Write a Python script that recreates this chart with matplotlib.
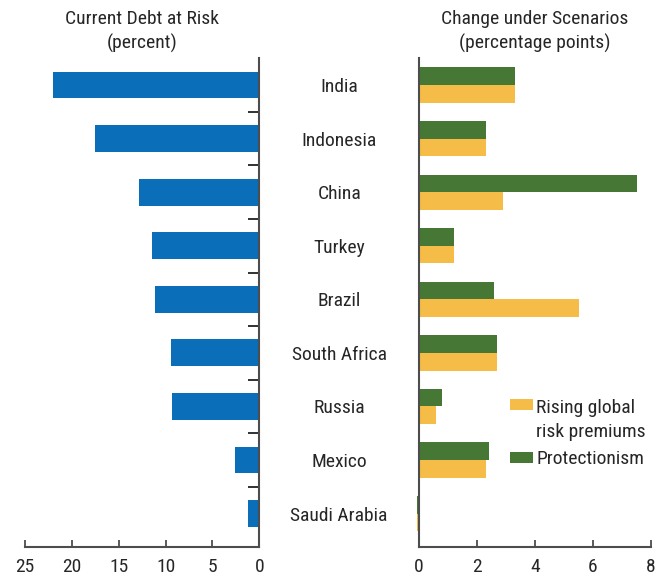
import matplotlib
matplotlib.use("Agg")
import matplotlib.pyplot as plt
from matplotlib import font_manager as fm
from matplotlib.patches import Patch, Rectangle
from matplotlib.legend_handler import HandlerPatch
import numpy as np

countries = ["India", "Indonesia", "China", "Turkey", "Brazil",
             "South Africa", "Russia", "Mexico", "Saudi Arabia"]
debt_at_risk = [22.0, 17.5, 12.8, 11.5, 11.1, 9.4, 9.3, 2.6, 1.2]
rising_premiums = [3.3, 2.3, 2.9, 1.2, 5.5, 2.7, 0.6, 2.3, -0.08]
protectionism = [3.3, 2.3, 7.5, 1.2, 2.6, 2.7, 0.8, 2.4, -0.08]
left_ticks = [25, 20, 15, 10, 5, 0]
right_ticks = [0, 2, 4, 6, 8]

available = set(f.name for f in fm.fontManager.ttflist)
preferred = ["Roboto Condensed", "Archivo Narrow", "Liberation Sans Narrow",
             "Barlow Semi Condensed", "Liberation Sans", "DejaVu Sans"]
FONT = [f for f in preferred if f in available] + ["DejaVu Sans"]
plt.rcParams["font.family"] = FONT

TXT = "#262626"
AX = "#4d4d4d"
BLUE = "#0A6EB8"
GREEN = "#477735"
YELLOW = "#F5BC47"
FS = 14

W, H = 657, 580
fig = plt.figure(figsize=(W / 100, H / 100), dpi=100)

top_px, bot_px = 58.3, 547.3
ax1 = fig.add_axes([25 / W, 1 - bot_px / H, 234.3 / W, (bot_px - top_px) / H])
ax2 = fig.add_axes([419 / W, 1 - bot_px / H, 232 / W, (bot_px - top_px) / H])

y = np.arange(len(countries))

# Left panel
ax1.barh(y, debt_at_risk, height=0.5, color=BLUE)
ax1.set_xlim(25, 0)
ax1.set_ylim(8.63, -0.5)
ax1.set_xticks(left_ticks)
ax1.set_xticklabels([str(t) for t in left_ticks])
ax1.yaxis.tick_right()
ax1.set_yticks(y[:-1] + 0.5)
ax1.set_yticklabels([])
ax1.tick_params(axis="y", direction="in", length=8, width=1.3, color="#222222")
ax1.tick_params(axis="x", direction="in", length=5, width=1.3, color=AX,
                labelsize=FS, labelcolor=TXT, pad=7.5)
for s in ["top", "left"]:
    ax1.spines[s].set_visible(False)
for s in ["right", "bottom"]:
    ax1.spines[s].set_color(AX)
    ax1.spines[s].set_linewidth(1.5)

# Right panel
h = 0.33
ax2.barh(y + h / 2, rising_premiums, height=h, color=YELLOW, clip_on=False)
ax2.barh(y - h / 2, protectionism, height=h, color=GREEN, clip_on=False)
ax2.set_xlim(0, 8)
ax2.set_ylim(8.63, -0.5)
ax2.set_xticks(right_ticks)
ax2.set_xticklabels([str(t) for t in right_ticks])
ax2.set_yticks(y)
ax2.set_yticklabels(countries, ha="center")
ax2.tick_params(axis="y", length=0, pad=57.5, labelsize=FS, labelcolor=TXT)
ax2.tick_params(axis="x", direction="in", length=5, width=1.3, color=AX,
                labelsize=FS, labelcolor=TXT, pad=7.5)
for s in ["top", "right"]:
    ax2.spines[s].set_visible(False)
for s in ["left", "bottom"]:
    ax2.spines[s].set_color(AX)
    ax2.spines[s].set_linewidth(1.5)


def first_line_patch(legend, orig_handle, xdescent, ydescent, width, height, fontsize):
    return Rectangle((-xdescent, -ydescent + 0.8 * fontsize), width, height)


handles = [Patch(facecolor=YELLOW, edgecolor="none"),
           Patch(facecolor=GREEN, edgecolor="none")]
leg = ax2.legend(handles, ["Rising global\nrisk premiums", "Protectionism"],
                 loc="upper left", bbox_to_anchor=(0.392, 0.303),
                 borderaxespad=0, borderpad=0, frameon=False, fontsize=FS,
                 handlelength=1.2, handleheight=0.53, handletextpad=0.15,
                 labelspacing=0.5,
                 handler_map={handles[0]: HandlerPatch(patch_func=first_line_patch)})
for t in leg.get_texts():
    t.set_color(TXT)
    t.set_linespacing(1.4)

# Titles
fig.text(142.2 / W, 1 - 24 / H, "Current Debt at Risk", ha="center",
         va="baseline", fontsize=FS, color=TXT)
fig.text(142.2 / W, 1 - 49 / H, "(percent)", ha="center",
         va="baseline", fontsize=FS, color=TXT)
fig.text(535 / W, 1 - 24 / H, "Change under Scenarios", ha="center",
         va="baseline", fontsize=FS, color=TXT)
fig.text(535 / W, 1 - 48.5 / H, "(percentage points)", ha="center",
         va="baseline", fontsize=FS, color=TXT)

fig.savefig("out.png", dpi=100)
